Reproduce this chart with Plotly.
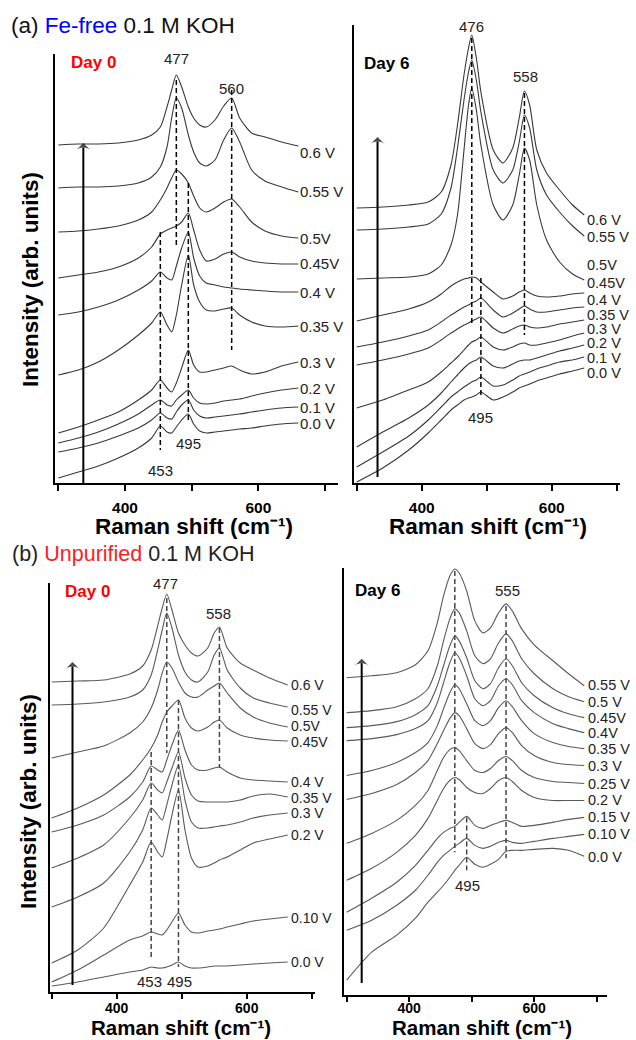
import plotly.graph_objects as go

# ------------------------------------------------------------------
# DATA (Raman shift in cm-1, intensity in arbitrary units, stacked)
# ------------------------------------------------------------------
# (a) Fe-free 0.1 M KOH, Day 0
A0_X = [300, 330, 360, 390, 420, 440, 453, 463, 470, 477, 485, 495, 503, 512, 522, 535, 548, 560, 572, 590, 610, 635, 660]
A0_NAMES = ["0.6 V", "0.55 V", "0.5V", "0.45V", "0.4 V", "0.35 V", "0.3 V", "0.2 V", "0.1 V", "0.0 V"]
A0_060 = [338, 339, 339, 340, 343, 348, 356, 376, 393, 408, 396, 376, 365, 358, 356, 363, 377, 385, 365, 350, 346, 341, 337]
A0_055 = [295, 296, 296, 297, 300, 306, 316, 336, 365, 385, 375, 348, 331, 320, 317, 323, 343, 355, 341, 313, 302, 296, 291]
A0_050 = [251, 252, 254, 257, 263, 271, 283, 295, 305, 313, 309, 300, 287, 275, 271, 275, 281, 284, 276, 261, 252, 247, 245]
A0_045 = [205, 208, 211, 216, 225, 236, 249, 253, 255, 257, 261, 270, 253, 233, 222, 224, 229, 231, 226, 222, 220, 219, 219]
A0_040 = [168, 171, 176, 183, 193, 202, 211, 205, 203, 217, 235, 251, 225, 207, 200, 198, 196, 195, 194, 193, 192, 191, 191]
A0_035 = [108, 113, 121, 133, 148, 160, 171, 158, 151, 168, 198, 228, 198, 181, 173, 172, 174, 175, 168, 161, 157, 156, 157]
A0_030 = [50, 56, 63, 71, 83, 93, 103, 95, 91, 100, 115, 133, 118, 111, 111, 113, 115, 117, 113, 109, 111, 117, 121]
A0_020 = [40, 45, 51, 59, 69, 78, 83, 78, 77, 83, 88, 93, 85, 80, 79, 80, 82, 83, 84, 87, 90, 93, 95]
A0_010 = [31, 35, 40, 47, 55, 63, 70, 65, 64, 71, 78, 83, 73, 67, 65, 66, 67, 68, 69, 71, 73, 75, 76]
A0_000 = [5, 11, 17, 25, 35, 45, 57, 51, 50, 56, 63, 69, 59, 52, 50, 51, 52, 53, 54, 55, 57, 59, 60]

# (a) Fe-free 0.1 M KOH, Day 6
A6_X = [300, 340, 380, 410, 430, 445, 455, 465, 472, 477, 484, 491, 510, 525, 540, 550, 558, 566, 577, 592, 612, 632, 650]
A6_NAMES = ["0.6 V", "0.55 V", "0.5V", "0.45V", "0.4 V", "0.35 V", "0.3 V", "0.2 V", "0.1 V", "0.0 V"]
A6_060 = [275, 276, 278, 281, 291, 318, 358, 408, 435, 448, 425, 391, 333, 320, 335, 365, 392, 378, 333, 310, 293, 278, 268]
A6_055 = [253, 254, 256, 259, 269, 295, 335, 383, 411, 423, 403, 371, 313, 300, 313, 341, 368, 355, 313, 288, 271, 257, 247]
A6_050 = [204, 205, 206, 209, 218, 238, 268, 333, 378, 395, 373, 338, 278, 263, 278, 308, 335, 323, 278, 243, 221, 209, 203]
A6_045 = [162, 168, 174, 181, 189, 197, 201, 204, 205, 206, 205, 201, 191, 184, 187, 191, 193, 190, 187, 186, 187, 189, 190]
A6_040 = [136, 141, 147, 153, 161, 168, 172, 176, 178, 180, 182, 185, 173, 166, 170, 174, 177, 174, 171, 171, 173, 175, 176]
A6_035 = [118, 123, 129, 135, 143, 150, 154, 158, 160, 162, 164, 166, 155, 150, 154, 157, 158, 156, 155, 156, 159, 161, 163]
A6_030 = [75, 83, 93, 101, 111, 120, 126, 133, 138, 141, 143, 146, 136, 133, 136, 139, 140, 138, 138, 140, 143, 147, 150]
A6_020 = [36, 51, 65, 78, 90, 101, 108, 115, 119, 121, 123, 126, 117, 115, 119, 122, 123, 123, 125, 128, 132, 135, 138]
A6_010 = [16, 31, 47, 63, 76, 86, 91, 96, 99, 101, 103, 106, 97, 98, 103, 107, 109, 111, 114, 117, 121, 123, 126]
A6_000 = [1, 15, 33, 50, 63, 73, 78, 83, 85, 86, 88, 91, 83, 86, 91, 95, 97, 99, 102, 105, 109, 112, 115]

# (b) Unpurified 0.1 M KOH, Day 0
B0_X = [300, 340, 380, 420, 440, 453, 463, 470, 477, 485, 495, 505, 515, 525, 540, 550, 558, 570, 590, 610, 635, 663]
B0_NAMES = ["0.6 V", "0.55 V", "0.5V", "0.45V", "0.4 V", "0.35 V", "0.3 V", "0.2 V", "0.10 V", "0.0 V"]
B0_060 = [310, 311, 312, 318, 326, 342, 366, 384, 398, 382, 359, 347, 339, 336, 344, 359, 365, 344, 329, 322, 314, 307]
B0_055 = [287, 288, 290, 295, 302, 317, 342, 362, 379, 364, 337, 320, 312, 310, 320, 337, 344, 322, 304, 294, 289, 285]
B0_050 = [234, 240, 246, 259, 270, 284, 302, 319, 330, 324, 310, 299, 295, 295, 302, 306, 309, 299, 284, 275, 269, 265]
B0_045 = [174, 184, 197, 217, 232, 244, 257, 270, 280, 286, 292, 274, 264, 261, 265, 270, 272, 264, 257, 254, 252, 251]
B0_040 = [160, 167, 177, 195, 210, 226, 222, 220, 232, 247, 262, 242, 227, 222, 222, 224, 225, 220, 214, 212, 211, 210]
B0_035 = [124, 134, 147, 174, 192, 209, 202, 199, 210, 224, 240, 214, 197, 191, 190, 190, 190, 190, 192, 196, 198, 195]
B0_030 = [85, 95, 109, 140, 162, 184, 177, 172, 187, 207, 227, 192, 170, 164, 164, 165, 166, 167, 170, 174, 177, 179]
B0_020 = [29, 42, 64, 107, 130, 150, 140, 135, 152, 177, 202, 162, 134, 125, 126, 129, 132, 135, 142, 149, 153, 157]
B0_010 = [10, 22, 37, 52, 56, 60, 58, 57, 62, 70, 79, 67, 60, 59, 61, 62, 63, 65, 68, 71, 73, 75]
B0_000 = [6, 10, 15, 20, 22, 25, 24, 24, 25, 27, 30, 26, 24, 24, 25, 26, 26, 26, 27, 28, 29, 30]

# (b) Unpurified 0.1 M KOH, Day 6
B6_X = [300, 340, 380, 410, 430, 445, 455, 465, 473, 480, 492, 505, 518, 530, 543, 555, 565, 580, 600, 630, 655, 680]
B6_NAMES = ["0.55 V", "0.5 V", "0.45V", "0.4V", "0.35 V", "0.3 V", "0.25 V", "0.2 V", "0.15 V", "0.10 V", "0.0 V"]
B6_055 = [318, 320, 323, 331, 345, 373, 400, 420, 427, 423, 405, 375, 363, 368, 383, 392, 385, 367, 351, 335, 322, 310]
B6_050 = [283, 285, 289, 297, 307, 330, 355, 377, 387, 383, 365, 340, 332, 337, 353, 362, 355, 337, 322, 307, 299, 294]
B6_045 = [268, 270, 274, 281, 290, 310, 330, 350, 360, 355, 338, 315, 307, 312, 328, 337, 330, 313, 300, 288, 282, 278]
B6_040 = [255, 257, 261, 267, 275, 293, 313, 333, 343, 338, 320, 297, 290, 295, 310, 317, 311, 295, 283, 272, 267, 263]
B6_035 = [220, 225, 233, 243, 253, 270, 287, 303, 311, 307, 292, 275, 270, 275, 288, 295, 289, 275, 262, 253, 249, 247]
B6_030 = [196, 202, 211, 223, 235, 252, 265, 277, 283, 280, 267, 252, 247, 251, 262, 268, 263, 250, 240, 233, 231, 230]
B6_025 = [152, 162, 175, 190, 205, 225, 238, 246, 248, 245, 235, 225, 223, 227, 235, 239, 235, 225, 218, 214, 213, 212]
B6_020 = [115, 127, 143, 160, 177, 195, 207, 215, 218, 216, 208, 203, 202, 207, 215, 218, 214, 205, 198, 195, 195, 195]
B6_015 = [83, 97, 113, 130, 145, 157, 163, 167, 169, 173, 179, 170, 167, 170, 173, 175, 173, 169, 170, 173, 176, 178]
B6_010 = [65, 75, 90, 105, 120, 133, 140, 145, 149, 152, 157, 150, 147, 149, 153, 155, 153, 152, 154, 157, 159, 161]
B6_000 = [15, 43, 60, 77, 93, 103, 110, 118, 125, 130, 138, 131, 128, 131, 136, 144, 145, 145, 146, 147, 145, 139]

MAJOR_TICKS = [400, 600]
MAJOR_TEXT = ["<b>400</b>", "<b>600</b>"]
MINOR_TICKS = [300, 500, 700]

# ------------------------------------------------------------------
# LAYOUT / STYLE
# ------------------------------------------------------------------
W, H = 636, 1040
FONT = "Liberation Sans, Arial, Helvetica, sans-serif"


def fx(px):
    return px / W


def fy(py):
    return 1 - py / H


panels = [
    dict(x=A0_X, series=[A0_060, A0_055, A0_050, A0_045, A0_040, A0_035, A0_030, A0_020, A0_010, A0_000],
         names=A0_NAMES, dom_x=(55, 338), dom_y=(483, 54), xr=(295.0, 719.5), yr=(0, 429),
         color="#383838", dcolor="black", tstand=3, tsize=15.5, lsize=15, tlen=6,
         dashes=[(477, 403, 236), (560, 393, 133), (453, 251, 33), (495, 300, 60)],
         plabels=[("477", 477, 425), ("560", 560, 395), ("495", 495, 40), ("453", 453, 13)],
         lab_x=661, lab_y=[331, 292, 245, 220, 191, 157, 121, 95, 76, 60],
         arrow=(337.5, 0, 340), day=("Day 0", "#ff0000", 93, 62)),
    dict(x=A6_X, series=[A6_060, A6_055, A6_050, A6_045, A6_040, A6_035, A6_030, A6_020, A6_010, A6_000],
         names=A6_NAMES, dom_x=(354, 620), dom_y=(483, 25), xr=(295.8, 705), yr=(0, 458),
         color="#383838", dcolor="black", tstand=3, tsize=15.5, lsize=14.5, tlen=6,
         dashes=[(477, 445, 160), (558, 390, 148), (491, 205, 86)],
         plabels=[("476", 477, 457), ("558", 559, 407), ("495", 491, 66)],
         lab_x=653, lab_y=[263, 246, 218, 200, 183, 168, 154, 140, 125, 110],
         arrow=(332, 6, 346), day=("Day 6", "black", 386, 63)),
    dict(x=B0_X, series=[B0_060, B0_055, B0_050, B0_045, B0_040, B0_035, B0_030, B0_020, B0_010, B0_000],
         names=B0_NAMES, dom_x=(50, 315), dom_y=(992, 583), xr=(297.4, 705), yr=(0, 409),
         color="#5a5a5a", dcolor="#444444", tstand=-3, tsize=14, lsize=14, tlen=5,
         dashes=[(477, 394, 239), (558, 364, 224), (453, 240, 32), (495, 292, 25)],
         plabels=[("477", 475, 409), ("558", 556, 379), ("453", 451, 11), ("495", 497, 11)],
         lab_x=666, lab_y=[307, 282, 266, 250, 210, 194, 179, 157, 74, 30],
         arrow=(332, 7, 330), day=("Day 0", "#ff0000", 87, 591)),
    dict(x=B6_X, series=[B6_055, B6_050, B6_045, B6_040, B6_035, B6_030, B6_025, B6_020, B6_015, B6_010, B6_000],
         names=B6_NAMES, dom_x=(344, 607), dom_y=(995, 568), xr=(295.7, 716.5), yr=(0, 428),
         color="#5a5a5a", dcolor="#444444", tstand=-6, tsize=14, lsize=14.5, tlen=5,
         dashes=[(473, 425, 143), (555, 390, 137), (492, 178, 125)],
         plabels=[("476", 471, 439), ("555", 558, 405), ("495", 494, 110)],
         lab_x=684, lab_y=[311, 294, 278, 263, 247, 230, 212, 195, 178, 161, 138],
         arrow=(324, 12, 337), day=("Day 6", "black", 377, 590)),
]

fig = go.Figure()
annotations = []
shapes = []
layout_axes = {}

for i, p in enumerate(panels, start=1):
    xa = "x" if i == 1 else f"x{i}"
    ya = "y" if i == 1 else f"y{i}"
    xkey = "xaxis" if i == 1 else f"xaxis{i}"
    ykey = "yaxis" if i == 1 else f"yaxis{i}"

    for name, ys in zip(p["names"], p["series"]):
        fig.add_trace(go.Scatter(
            x=p["x"], y=ys, mode="lines", name=name, showlegend=False, hoverinfo="skip",
            line=dict(color=p["color"], width=1.1, shape="spline", smoothing=0.7),
            xaxis=xa, yaxis=ya))

    # potential-sweep arrow (shaft + head)
    ax_, a0, a1 = p["arrow"]
    fig.add_trace(go.Scatter(
        x=[ax_, ax_], y=[a0, a1], mode="lines+markers", showlegend=False, hoverinfo="skip",
        line=dict(color="black", width=2),
        marker=dict(symbol=["circle", "arrow-wide"], size=[0, 11], color="black",
                    line=dict(width=0)),
        xaxis=xa, yaxis=ya, cliponaxis=False))

    layout_axes[xkey] = dict(
        domain=[fx(p["dom_x"][0]), fx(p["dom_x"][1])], range=list(p["xr"]), anchor=ya,
        showline=True, linecolor="black", linewidth=2, showgrid=False, zeroline=False,
        ticks="outside", ticklen=p["tlen"], tickwidth=2, tickcolor="black",
        tickmode="array", tickvals=MAJOR_TICKS, ticktext=MAJOR_TEXT,
        ticklabelstandoff=p["tstand"],
        minor=dict(tickmode="array", tickvals=MINOR_TICKS, ticks="outside", ticklen=p["tlen"],
                   tickwidth=2, tickcolor="black", showgrid=False),
        tickfont=dict(family=FONT, size=p["tsize"], color="black"), fixedrange=True)
    layout_axes[ykey] = dict(
        domain=[fy(p["dom_y"][0]), fy(p["dom_y"][1])], range=list(p["yr"]), anchor=xa,
        showline=True, linecolor="black", linewidth=2, showgrid=False, zeroline=False,
        showticklabels=False, ticks="", fixedrange=True)

    # dashed peak guides
    for (xv, y0, y1) in p["dashes"]:
        shapes.append(dict(type="line", xref=xa, yref=ya, x0=xv, x1=xv, y0=y0, y1=y1,
                           line=dict(color=p["dcolor"], width=1.5, dash="5px,3px")))
    # peak labels
    for (txt, xv, yv) in p["plabels"]:
        annotations.append(dict(text=txt, xref=xa, yref=ya, x=xv, y=yv, showarrow=False,
                                xanchor="center", yanchor="middle", borderpad=0,
                                font=dict(family=FONT, size=15, color="#222222")))
    # potential labels
    for name, yv in zip(p["names"], p["lab_y"]):
        annotations.append(dict(text=name, xref=xa, yref=ya, x=p["lab_x"], y=yv, showarrow=False,
                                xanchor="left", yanchor="middle", height=14, borderpad=0,
                                font=dict(family=FONT, size=p["lsize"], color="#222222")))
    # day label
    dtxt, dcol, dpx, dpy = p["day"]
    annotations.append(dict(text=f"<b>{dtxt}</b>", xref="paper", yref="paper", x=fx(dpx), y=fy(dpy),
                            showarrow=False, xanchor="center", yanchor="middle", borderpad=0,
                            font=dict(family=FONT, size=17, color=dcol)))

# axis titles
for (cx, cy, sz) in [(194, 526, 22.5), (488, 526, 22.5), (181, 1027.5, 20.5), (482, 1027.5, 20.5)]:
    annotations.append(dict(text="<b>Raman shift (cm\u207b\u00b9)</b>", xref="paper", yref="paper",
                            x=fx(cx), y=fy(cy), showarrow=False, xanchor="center", yanchor="middle",
                            borderpad=0, font=dict(family=FONT, size=sz, color="black")))
for (cx, cy) in [(31, 280), (28, 802)]:
    annotations.append(dict(text="<b>Intensity (arb. units)</b>", xref="paper", yref="paper",
                            x=fx(cx), y=fy(cy), showarrow=False, xanchor="center", yanchor="middle",
                            textangle=-90, borderpad=0, font=dict(family=FONT, size=22.5, color="black")))

# panel titles
annotations.append(dict(text="(a) <span style='color:#0000ff'>Fe-free</span> 0.1 M KOH", xref="paper", yref="paper",
                        x=fx(10), y=fy(25), showarrow=False, xanchor="left", yanchor="middle", borderpad=0,
                        font=dict(family=FONT, size=22.5, color="#111111")))
annotations.append(dict(text="(b) <span style='color:#ff2020'>Unpurified</span> 0.1 M KOH", xref="paper", yref="paper",
                        x=fx(11), y=fy(554), showarrow=False, xanchor="left", yanchor="middle", borderpad=0,
                        font=dict(family=FONT, size=21.5, color="#222222")))

fig.update_layout(
    width=W, height=H, margin=dict(l=0, r=0, t=0, b=0),
    paper_bgcolor="white", plot_bgcolor="white",
    showlegend=False, annotations=annotations, shapes=shapes,
    **layout_axes)

fig.write_html("out.html")
